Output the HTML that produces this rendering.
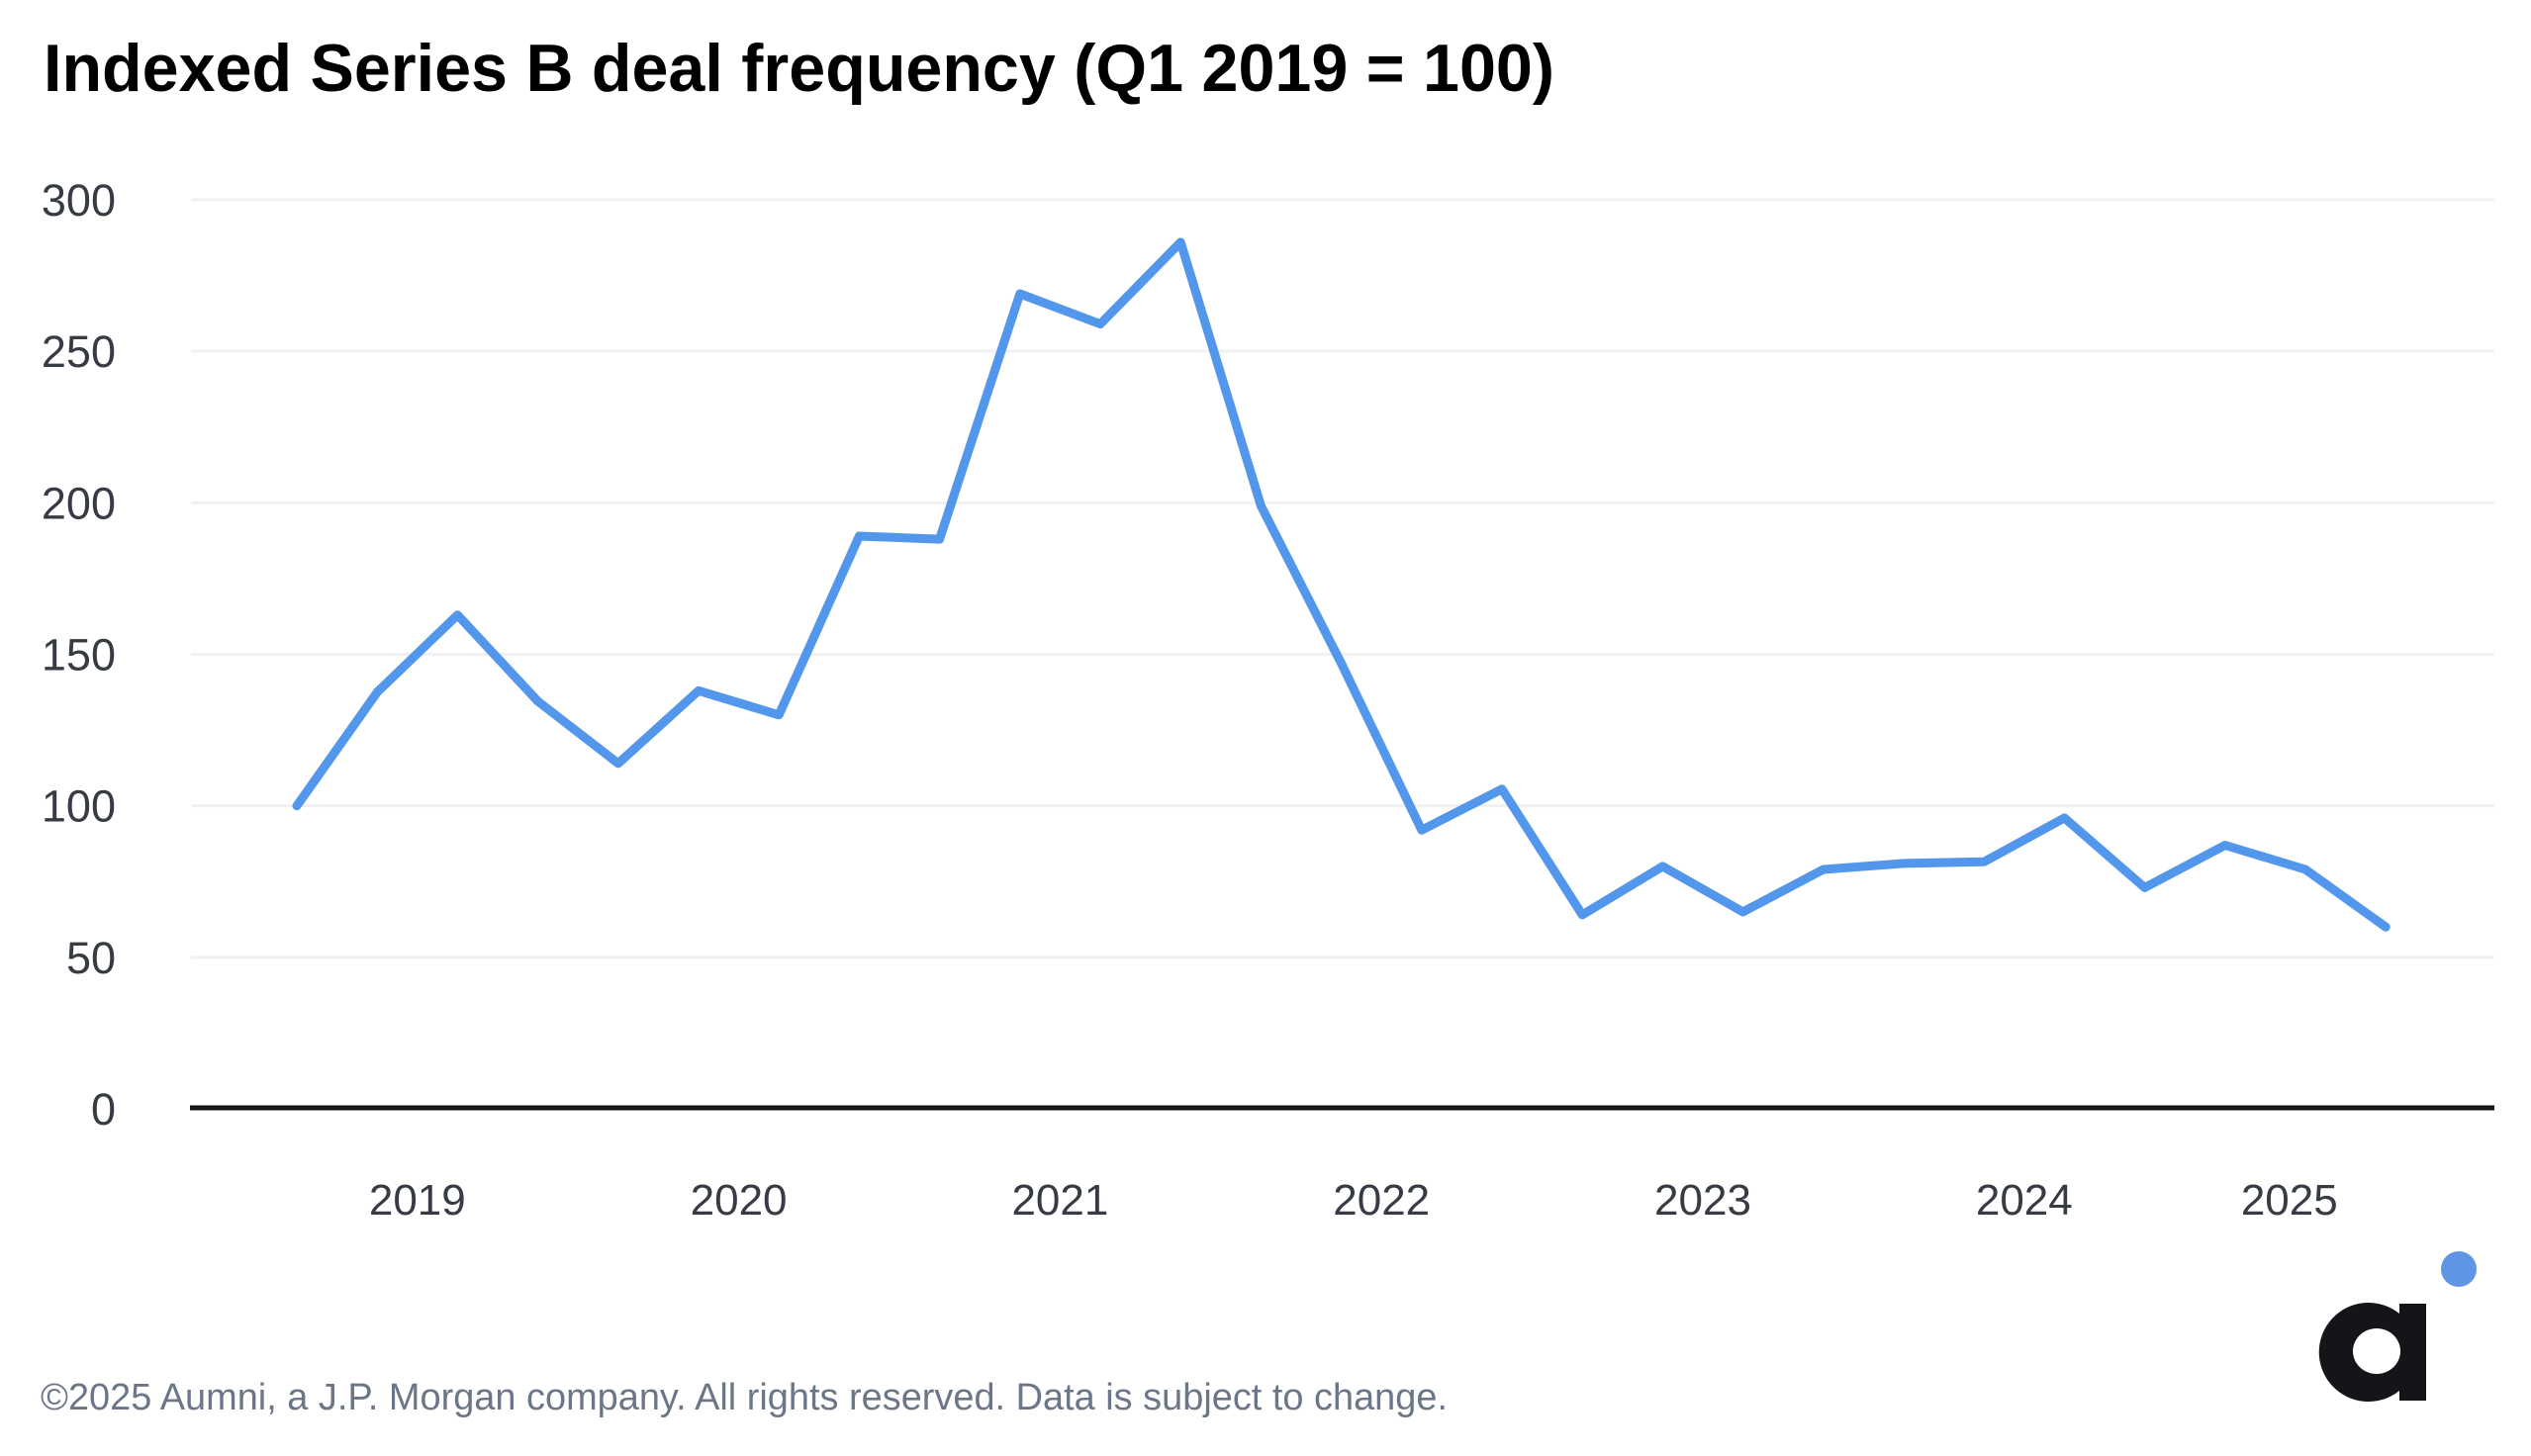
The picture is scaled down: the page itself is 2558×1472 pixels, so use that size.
<!DOCTYPE html>
<html><head><meta charset="utf-8"><style>
html,body{margin:0;padding:0;background:#fff;}
svg{display:block;}
</style></head><body>
<svg id="chart" width="2558" height="1472" viewBox="0 0 2558 1472" xmlns="http://www.w3.org/2000/svg">
<text x="44" y="92" font-family="Liberation Sans, sans-serif" font-weight="bold" font-size="68" fill="#000" textLength="1527" lengthAdjust="spacingAndGlyphs">Indexed Series B deal frequency (Q1 2019 = 100)</text>
<g id="grid"></g>
<g id="yticks"></g>
<g id="xticks"></g>
<line x1="192" y1="1120" x2="2521" y2="1120" stroke="#141519" stroke-width="5"/>
<path id="series" fill="none" stroke="#5397ec" stroke-width="9" stroke-linejoin="round" stroke-linecap="round"/>
<text x="41" y="1425" font-family="Liberation Sans, sans-serif" font-size="38" fill="#6b7689" textLength="1422" lengthAdjust="spacingAndGlyphs">©2025 Aumni, a J.P. Morgan company. All rights reserved. Data is subject to change.</text>
<g>
<path d="M2452 1318 L2425 1318 L2425 1328 A50 50 0 1 0 2425 1406 L2425 1416 L2452 1416 Z M2402 1343 A24 23 0 1 1 2402 1389 A24 23 0 1 1 2402 1343 Z" fill="#141519" fill-rule="evenodd"/>
<circle cx="2485" cy="1283" r="18" fill="#6095e6"/>
</g>
</svg>
<script>
const values = [100,137.5,163,134.5,114,138,130,189,188,269,259,286,199,147,92,105.5,64,80,65,79,81,81.5,96,73,87,79,60];
const yTicks = [0,50,100,150,200,250,300];
const yearLabels = ["2019","2020","2021","2022","2023","2024","2025"];
const yearPositions = [1.5,5.5,9.5,13.5,17.5,21.5,24.8];

const NS = "http://www.w3.org/2000/svg";
const X0 = 300, STEP = 81.2;
const Y0 = 1121, YTOP = 202, YMAX = 300;
function xScale(i){ return X0 + i*STEP; }
function yScale(v){ return Y0 - (v/YMAX)*(Y0-YTOP); }

const grid = document.getElementById('grid');
const yt = document.getElementById('yticks');
yTicks.forEach(function(t){
  const y = yScale(t);
  if (t !== 0) {
    const l = document.createElementNS(NS,'line');
    
    
    l.setAttribute('x1',193); l.setAttribute('x2',2521);
    l.setAttribute('y1',y); l.setAttribute('y2',y);
    l.setAttribute('stroke','#f0f1f5'); l.setAttribute('stroke-width','3');
    grid.appendChild(l);
  }
  const tx = document.createElementNS(NS,'text');
  
  
  tx.setAttribute('x',117); tx.setAttribute('y',y+16);
  tx.setAttribute('text-anchor','end');
  tx.setAttribute('font-family','Liberation Sans, sans-serif');
  tx.setAttribute('font-size','45');
  tx.setAttribute('fill','#363b44');
  tx.textContent = String(t);
  yt.appendChild(tx);
});

const xt = document.getElementById('xticks');
yearLabels.forEach(function(lab, k){
  const tx = document.createElementNS(NS,'text');
  
  
  tx.setAttribute('x',xScale(yearPositions[k])); tx.setAttribute('y',1228);
  tx.setAttribute('text-anchor','middle');
  tx.setAttribute('font-family','Liberation Sans, sans-serif');
  tx.setAttribute('font-size','44');
  tx.setAttribute('fill','#363b44');
  tx.textContent = lab;
  xt.appendChild(tx);
});

let d = '';
values.forEach(function(v,i){ d += (i?'L':'M') + xScale(i).toFixed(1) + ' ' + yScale(v).toFixed(1) + ' '; });
document.getElementById('series').setAttribute('d', d);
</script>
</body></html>
